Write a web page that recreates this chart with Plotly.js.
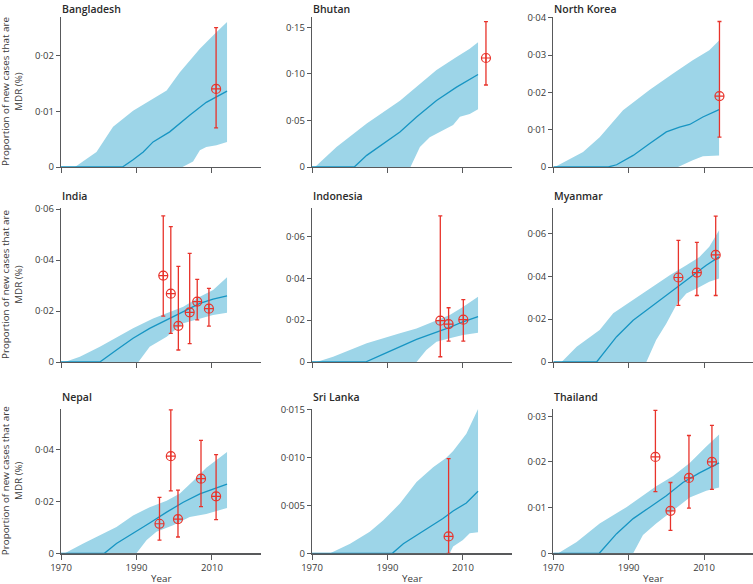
<!DOCTYPE html>
<html>
<head>
<meta charset="utf-8">
<script src="https://cdn.plot.ly/plotly-3.0.1.min.js"></script>
<style>html,body{margin:0;padding:0;background:#fff;}#chart{width:753px;height:584px;}</style>
</head>
<body>
<div id="chart"></div>
<script>
// ---------- DATA (year, value pairs) ----------
const countries = ["Bangladesh","Bhutan","North Korea","India","Indonesia","Myanmar","Nepal","Sri Lanka","Thailand"];

// Bangladesh
const bgdUpper = [[1970,0],[1973.7,0],[1979.4,0.0027],[1983.8,0.0072],[1989.1,0.0101],[1998,0.0137],[2001.5,0.017],[2006.8,0.0212],[2010.3,0.0236],[2014,0.026]];
const bgdLower = [[1970,0],[2002.2,0],[2005,0.001],[2006.8,0.003],[2008.5,0.0036],[2011.2,0.0039],[2014,0.0045]];
const bgdMid = [[1970,0],[1986.3,0],[1989.1,0.0013],[1991.8,0.0027],[1994.4,0.0045],[1998.8,0.0063],[2004.1,0.0093],[2008.5,0.0116],[2014,0.0136]];
const bgdObsYear = [2011.1], bgdObs = [0.014], bgdObsLo = [0.007], bgdObsHi = [0.025];

// Bhutan
const btnUpper = [[1970,0],[1970.8,0],[1976.5,0.0215],[1984.5,0.0466],[1993.3,0.071],[1997.7,0.086],[2003,0.104],[2008.3,0.118],[2011.8,0.127],[2014,0.134]];
const btnLower = [[1970,0],[1996.1,0],[1998.6,0.0215],[2001.2,0.032],[2003.9,0.0375],[2007.4,0.045],[2009.2,0.054],[2011.8,0.057],[2014,0.062]];
const btnMid = [[1970,0],[1981.2,0],[1984.5,0.0125],[1988.9,0.025],[1993.3,0.0375],[1997.7,0.0536],[2003,0.0714],[2008.3,0.0857],[2014,0.0993]];
const btnObsYear = [2016.1], btnObs = [0.117], btnObsLo = [0.088], btnObsHi = [0.156];

// North Korea
const prkUpper = [[1970,0],[1970.4,0],[1977.9,0.004],[1982.3,0.008],[1988.5,0.0152],[1995.6,0.0207],[2001.7,0.025],[2007,0.0286],[2011.4,0.0313],[2014,0.0339]];
const prkLower = [[1970,0],[2003.1,0],[2007,0.0018],[2009.7,0.0029],[2014,0.0031]];
const prkMid = [[1970,0],[1984.6,0],[1986.8,0.0006],[1991.2,0.0031],[1995.6,0.0063],[2000,0.0094],[2003.5,0.0107],[2006.2,0.0114],[2009.7,0.0134],[2014,0.0154]];
const prkObsYear = [2014.1], prkObs = [0.019], prkObsLo = [0.008], prkObsHi = [0.039];

// India
const indUpper = [[1970,0],[1971,0],[1975,0.0021],[1980.3,0.006],[1989.1,0.0132],[1994.4,0.0171],[1998,0.0191],[2002.4,0.0217],[2006.8,0.0256],[2010.3,0.0282],[2014,0.0332]];
const indLower = [[1970,0],[1990.5,0],[1993.5,0.006],[1998,0.0099],[2002.4,0.0152],[2006.8,0.0171],[2010.3,0.0184],[2014,0.0193]];
const indMid = [[1970,0],[1980.3,0],[1984.7,0.0047],[1989.1,0.0093],[1993.5,0.0132],[1998,0.0165],[2002.4,0.0197],[2006.8,0.023],[2010.3,0.0247],[2014,0.0259]];
const indObsYear = [1997.1,1999.1,2001.1,2004.1,2006.1,2009.2];
const indObs = [0.0339,0.0268,0.0142,0.0195,0.0237,0.0209];
const indObsLo = [0.018,0.0112,0.0047,0.0072,0.0165,0.0141];
const indObsHi = [0.0573,0.0531,0.0375,0.0426,0.0324,0.0289];

// Indonesia
const idnUpper = [[1970,0],[1971.2,0],[1975.6,0.0025],[1980.1,0.0057],[1984.5,0.0089],[1993.3,0.0137],[1997.7,0.016],[2002.1,0.0192],[2006.5,0.0224],[2010,0.0263],[2014,0.0311]];
const idnLower = [[1970,0],[1997.7,0],[2000.3,0.0057],[2003,0.0097],[2006.5,0.0113],[2010,0.0129],[2014,0.014]];
const idnMid = [[1970,0],[1984.2,0],[1988.9,0.0038],[1993.3,0.0073],[1997.7,0.0108],[2002.1,0.0137],[2006.5,0.0165],[2010,0.0192],[2014,0.0216]];
const idnObsYear = [2004,2006.2,2010.1];
const idnObs = [0.0197,0.0181,0.0202];
const idnObsLo = [0.0025,0.01,0.01];
const idnObsHi = [0.0697,0.0259,0.0298];

// Myanmar
const mmrUpper = [[1970,0],[1972.2,0],[1976.2,0.0071],[1982.3,0.0149],[1985.9,0.0227],[1991.2,0.0289],[1996.5,0.035],[2000.9,0.0405],[2005.3,0.0451],[2008.8,0.049],[2011.4,0.0537],[2014,0.0614]];
const mmrLower = [[1970,0],[1994.7,0],[1997.3,0.0102],[2000,0.018],[2002.6,0.0265],[2005.3,0.0319],[2008.8,0.035],[2011.4,0.0374],[2014,0.0389]];
const mmrMid = [[1970,0],[1981.5,0],[1986.8,0.0118],[1991.2,0.0195],[1996.5,0.0265],[2001.7,0.0335],[2007,0.0405],[2010.6,0.0451],[2014,0.049]];
const mmrObsYear = [2003.2,2008.1,2013.1];
const mmrObs = [0.0394,0.0417,0.0499];
const mmrObsLo = [0.0264,0.031,0.031];
const mmrObsHi = [0.0567,0.0558,0.068];

// Nepal
const nplUpper = [[1970,0],[1971,0],[1975.9,0.0038],[1980.3,0.007],[1984.7,0.0102],[1989.1,0.0146],[1993.5,0.0178],[1998,0.0203],[2001.5,0.0231],[2005,0.0279],[2008.5,0.033],[2014,0.0391]];
const nplLower = [[1970,0],[1990,0],[1992.7,0.0051],[1995.3,0.0083],[1999.7,0.0108],[2004.1,0.014],[2008.5,0.0152],[2014,0.0175]];
const nplMid = [[1970,0],[1981.5,0],[1984.7,0.0038],[1989.1,0.0076],[1993.5,0.0117],[1998,0.0159],[2002.4,0.0197],[2006.8,0.0229],[2011.2,0.0251],[2014,0.0267]];
const nplObsYear = [1996.1,1999.1,2001,2007.1,2011.1];
const nplObs = [0.0114,0.0375,0.0132,0.0288,0.022];
const nplObsLo = [0.0051,0.0241,0.0063,0.018,0.013];
const nplObsHi = [0.0216,0.0554,0.0244,0.0436,0.0381];

// Sri Lanka
const lkaUpper = [[1970,0],[1974.8,0],[1980.1,0.001],[1985.3,0.00225],[1988.9,0.00347],[1993.3,0.0052],[1997.7,0.00745],[2002.1,0.009],[2005.6,0.01],[2007.4,0.0107],[2010.9,0.0125],[2014,0.0151]];
const lkaLower = [[1970,0],[2006.5,0],[2007.4,0.0007],[2010,0.0014],[2011.8,0.0021],[2014,0.0022]];
const lkaMid = [[1970,0],[1991.3,0],[1994.2,0.001],[1997.7,0.0019],[2001.2,0.00277],[2004.7,0.00364],[2007.4,0.00443],[2010.9,0.00527],[2014,0.0065]];
const lkaObsYear = [2006.2], lkaObs = [0.00177], lkaObsLo = [0], lkaObsHi = [0.0099];

// Thailand
const thaUpper = [[1970,0],[1971.3,0],[1976.2,0.0025],[1982.3,0.0065],[1989.4,0.0101],[1993.8,0.0126],[1997.3,0.0147],[2001.7,0.0169],[2006.2,0.0198],[2010.6,0.0234],[2014,0.026]];
const thaLower = [[1970,0],[1991.2,0],[1993.8,0.004],[1997.3,0.0065],[2001.7,0.0094],[2006.2,0.0122],[2010.6,0.0137],[2014,0.0144]];
const thaMid = [[1970,0],[1982.2,0],[1986.8,0.0043],[1991.2,0.0076],[1995.6,0.0101],[2000,0.0126],[2004.4,0.0155],[2008.8,0.0176],[2014,0.0198]];
const thaObsYear = [1997.1,2001.1,2006,2012.1];
const thaObs = [0.0211,0.0093,0.0165,0.02];
const thaObsLo = [0.0135,0.005,0.0099,0.014];
const thaObsHi = [0.0313,0.0155,0.0258,0.028];

// Axis ranges and tick labels
const yMax = [0.0269,0.161,0.0402,0.0604,0.0735,0.0718,0.0557,0.0151,0.0316];
const yTickVals = [
  [0,0.01,0.02],[0,0.05,0.10,0.15],[0,0.01,0.02,0.03,0.04],
  [0,0.02,0.04,0.06],[0,0.02,0.04,0.06],[0,0.02,0.04,0.06],
  [0,0.02,0.04],[0,0.005,0.010,0.015],[0,0.01,0.02,0.03]
];
const yTickText = [
  ["0","0·01","0·02"],["0","0·05","0·10","0·15"],["0","0·01","0·02","0·03","0·04"],
  ["0","0·02","0·04","0·06"],["0","0·02","0·04","0·06"],["0","0·02","0·04","0·06"],
  ["0","0·02","0·04"],["0","0·005","0·010","0·015"],["0","0·01","0·02","0·03"]
];
const xTickVals = [1970,1990,2010];
const xTickText = ["1970","1990","2010"];
const xTitle = "Year";
const yTitle = "Proportion of new cases that are<br>MDR (%)";

const panels = [
  [bgdUpper,bgdLower,bgdMid,bgdObsYear,bgdObs,bgdObsLo,bgdObsHi],
  [btnUpper,btnLower,btnMid,btnObsYear,btnObs,btnObsLo,btnObsHi],
  [prkUpper,prkLower,prkMid,prkObsYear,prkObs,prkObsLo,prkObsHi],
  [indUpper,indLower,indMid,indObsYear,indObs,indObsLo,indObsHi],
  [idnUpper,idnLower,idnMid,idnObsYear,idnObs,idnObsLo,idnObsHi],
  [mmrUpper,mmrLower,mmrMid,mmrObsYear,mmrObs,mmrObsLo,mmrObsHi],
  [nplUpper,nplLower,nplMid,nplObsYear,nplObs,nplObsLo,nplObsHi],
  [lkaUpper,lkaLower,lkaMid,lkaObsYear,lkaObs,lkaObsLo,lkaObsHi],
  [thaUpper,thaLower,thaMid,thaObsYear,thaObs,thaObsLo,thaObsHi]
];

// ---------- LAYOUT ----------
const W = 753, H = 584;
const colPx = [[61,261],[312,512],[553.3,753]];
const rowPx = [[17,167],[208,362],[409,553.3]];
const bandColor = "#9dd5e8";
const lineColor = "#1795c3";
const redColor = "#e8332b";
const axisColor = "#58595b";
const textColor = "#3a3a3a";
const FONT = "Open Sans, Noto Sans, sans-serif";

const traces = [];
const layout = {
  width: W, height: H,
  margin: {l:0,r:0,t:0,b:0},
  paper_bgcolor: "#fff", plot_bgcolor: "rgba(0,0,0,0)",
  showlegend: false,
  font: {family: FONT, size: 9.5, color: textColor},
  annotations: []
};

panels.forEach((p, i) => {
  const [up, lo, mid, oy, ov, olo, ohi] = p;
  const r = Math.floor(i/3), c = i % 3;
  const sfx = i === 0 ? "" : String(i+1);
  const xa = "x" + sfx, ya = "y" + sfx;

  traces.push({
    type: "scatter", mode: "lines", xaxis: xa, yaxis: ya,
    x: up.map(d => d[0]).concat(lo.slice().reverse().map(d => d[0])),
    y: up.map(d => d[1]).concat(lo.slice().reverse().map(d => d[1])),
    fill: "toself", fillcolor: bandColor, line: {width: 0}, hoverinfo: "skip"
  });
  traces.push({
    type: "scatter", mode: "lines", xaxis: xa, yaxis: ya,
    x: mid.map(d => d[0]), y: mid.map(d => d[1]),
    line: {color: lineColor, width: 1.3}
  });
  traces.push({
    type: "scatter", mode: "markers", xaxis: xa, yaxis: ya, cliponaxis: false,
    x: oy, y: ov,
    marker: {symbol: "circle-cross-open", size: 9, color: redColor, line: {width: 1.2, color: redColor}},
    error_y: {type: "data", symmetric: false,
      array: ohi.map((h, k) => h - ov[k]),
      arrayminus: olo.map((l, k) => ov[k] - l),
      color: redColor, thickness: 1.3, width: 2}
  });

  const xd = [colPx[c][0]/W, colPx[c][1]/W];
  const yd = [1 - rowPx[r][1]/H, 1 - rowPx[r][0]/H];
  layout["xaxis" + sfx] = {
    domain: xd, anchor: ya, range: [1970, 2023],
    tickvals: xTickVals, ticktext: xTickText, showticklabels: r === 2,
    ticks: "outside", ticklen: 5, tickwidth: 1, tickcolor: axisColor,
    showline: true, linecolor: axisColor, linewidth: 1.2,
    showgrid: false, zeroline: false, layer: "below traces",
    tickfont: {family: FONT, size: 9.5, color: textColor}
  };
  layout["yaxis" + sfx] = {
    domain: yd, anchor: xa, range: [0, yMax[i]],
    tickvals: yTickVals[i], ticktext: yTickText[i],
    ticks: "outside", ticklen: 4, tickwidth: 1, tickcolor: axisColor,
    showline: true, linecolor: axisColor, linewidth: 1.2,
    showgrid: false, zeroline: false, layer: "below traces",
    tickfont: {family: FONT, size: 9.5, color: textColor}
  };
  const titleY = r === 0 ? 1 : 1 - (rowPx[r][0] - 12)/H;
  layout.annotations.push({
    text: countries[i], xref: "paper", yref: "paper",
    x: colPx[c][0]/W - 1/W, y: titleY,
    xanchor: "left", yanchor: r === 0 ? "top" : "middle", showarrow: false,
    font: {family: FONT, size: 10.5, color: "#2a2a2a", weight: 600}
  });
  if (c === 0) {
    layout.annotations.push({
      text: yTitle, xref: "paper", yref: "paper", textangle: -90,
      x: 12/W, y: 1 - (rowPx[r][0] + rowPx[r][1])/2/H,
      xanchor: "center", yanchor: "middle", showarrow: false,
      font: {family: FONT, size: 9.8, color: textColor}
    });
  }
  if (r === 2) {
    layout.annotations.push({
      text: xTitle, xref: "paper", yref: "paper",
      x: (colPx[c][0] + colPx[c][1])/2/W, y: 1 - 578/H,
      xanchor: "center", yanchor: "middle", showarrow: false,
      font: {family: FONT, size: 9.8, color: textColor}
    });
  }
});

Plotly.newPlot("chart", traces, layout, {displayModeBar: false, staticPlot: true});
</script>
</body>
</html>
